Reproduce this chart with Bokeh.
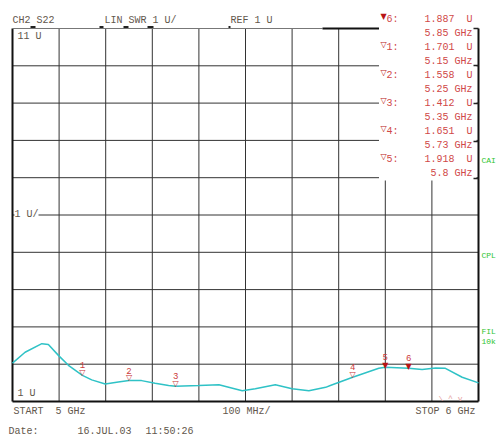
from bokeh.plotting import figure
from bokeh.models import Label
from bokeh.core.properties import value
from bokeh.embed import file_html
from bokeh.resources import INLINE

# ---- data ----
freq_ghz = [5.000, 5.027, 5.063, 5.077, 5.099, 5.120, 5.150, 5.170, 5.199, 5.227,
            5.250, 5.277, 5.306, 5.335, 5.350, 5.400, 5.443, 5.493, 5.521, 5.564,
            5.600, 5.636, 5.672, 5.682, 5.730, 5.786, 5.800, 5.850, 5.879, 5.908,
            5.929, 5.965, 6.000]
swr = [2.03, 2.32, 2.55, 2.53, 2.23, 1.97, 1.70, 1.58, 1.47, 1.52,
       1.56, 1.56, 1.49, 1.43, 1.41, 1.43, 1.45, 1.29, 1.34, 1.45,
       1.34, 1.29, 1.38, 1.43, 1.65, 1.89, 1.92, 1.89, 1.86, 1.90,
       1.89, 1.65, 1.50]

marker_ids = ["1", "2", "3", "4", "5", "6"]
marker_freq = [5.15, 5.25, 5.35, 5.73, 5.8, 5.85]
marker_swr = [1.701, 1.558, 1.412, 1.651, 1.918, 1.887]
table_order = ["6", "1", "2", "3", "4", "5"]

x_ticks = [5.1, 5.2, 5.3, 5.4, 5.5, 5.6, 5.7, 5.8, 5.9]
y_ticks = [2, 3, 4, 5, 6, 7, 8, 9, 10]

X0, X1, Y0, Y1 = 5.0, 6.0, 1.0, 11.0

# graticule geometry in page pixels (for placing decorative texts)
W, H = 502, 441
FL, FR, FT, FB = 12, 478, 28, 401
SP = "\u00a0"  # non-breaking space keeps the fixed-width gaps


def X(px):
    return X0 + (px - FL) / (FR - FL) * (X1 - X0)


def Y(py):
    return Y0 + (FB - py) / (FB - FT) * (Y1 - Y0)


p = figure(width=W, height=H, output_backend="svg", toolbar_location=None,
           x_range=(X(0), X(W)), y_range=(Y(H), Y(0)),
           x_axis_location=None, y_axis_location=None,
           min_border_left=0, min_border_right=0, min_border_top=0, min_border_bottom=0)
p.grid.visible = False
p.outline_line_color = None
p.background_fill_color = "white"
p.border_fill_color = "white"

# graticule
p.segment(x0=x_ticks, x1=x_ticks, y0=[Y0] * len(x_ticks), y1=[Y1] * len(x_ticks),
          line_color="#333333", line_width=1)
p.segment(x0=[X0] * len(y_ticks), x1=[X1] * len(y_ticks), y0=y_ticks, y1=y_ticks,
          line_color="#333333", line_width=1)

# marker table background
p.quad(left=[X(378.5)], right=[X(476)], top=[Y(27)], bottom=[Y(180)],
       fill_color="white", line_color=None)

# borders
p.segment(x0=[X0, X0, X1], x1=[X0, X1, X1], y0=[Y0, Y0, Y0], y1=[Y1, Y0, Y1],
          line_color="#111111", line_width=2)
p.segment(x0=[X0], x1=[X(322)], y0=[Y1], y1=[Y1], line_color="#777777", line_width=1.2)
p.segment(x0=[X(322)], x1=[X(378.5)], y0=[Y1], y1=[Y1], line_color="#111111", line_width=2)
# small header dashes and right-edge ticks
p.segment(x0=[X(30), X(99), X(123), X(147), X(228)], x1=[X(35), X(103), X(128), X(153), X(230)],
          y0=[Y(26.5)] * 5, y1=[Y(26.5)] * 5, line_color="#222222", line_width=2)
p.segment(x0=[X(473)] * 5, x1=[X1] * 5,
          y0=[Y(28), Y(65), Y(103), Y(141), Y(178)], y1=[Y(28), Y(65), Y(103), Y(141), Y(178)],
          line_color="#222222", line_width=1.5)

# trace
p.line(freq_ghz, swr, line_color="#2fc2c6", line_width=1.5)

# markers on trace
mono = "Liberation Mono"
open_x = [f for i, f in zip(marker_ids, marker_freq) if i in ("1", "2", "3", "4")]
open_y = [v for i, v in zip(marker_ids, marker_swr) if i in ("1", "2", "3", "4")]
fill_x = [f for i, f in zip(marker_ids, marker_freq) if i in ("5", "6")]
fill_y = [v for i, v in zip(marker_ids, marker_swr) if i in ("5", "6")]
p.text(open_x, open_y, text=["\u25bd"] * len(open_x), text_font=value("DejaVu Sans"),
       text_font_size="8px", text_align="center", text_baseline="alphabetic",
       text_color="#c83232", y_offset=-3)
p.text(fill_x, fill_y, text=["\u25bc"] * len(fill_x), text_font=value("DejaVu Sans"),
       text_font_size="8px", text_align="center", text_baseline="alphabetic",
       text_color="#b81414", y_offset=-2)
p.text(marker_freq, marker_swr, text=marker_ids, text_font=value(mono),
       text_font_size="9px", text_align="center", text_baseline="alphabetic",
       text_color="#cc3b3b", y_offset=-10)


def lab(txt, px, py, color, size="10px", align="left", font=mono, bg=None):
    p.add_layout(Label(x=X(px), y=Y(py), text=txt.replace(" ", SP), text_color=color,
                       text_font_size=size, text_font=font, text_align=align,
                       text_baseline="middle", background_fill_color=bg))


hdr = "#62574c"
lab("CH2 S22", 12, 20, hdr)
lab("LIN SWR 1 U/", 104, 20, hdr)
lab("REF 1 U", 230, 20, hdr)
lab("11 U", 17, 36, hdr)
lab("1 U/", 14, 214, hdr, bg="white")
lab("1 U", 17, 393, hdr)
lab("START  5 GHz", 13, 411, hdr)
lab("100 MHz/", 222, 411, hdr)
lab("STOP 6 GHz", 415, 411, hdr)
lab("Date:", 8, 431, hdr)
lab("16.JUL.03", 77, 431, hdr)
lab("11:50:26", 145, 431, hdr)

# marker table
red = "#d04848"
for k, mid in enumerate(table_order):
    i = marker_ids.index(mid)
    yv = 19 + 28 * k
    sym = "\u25bc" if mid == "6" else "\u25bd"
    lab(sym, 380, yv - 3, "#b81414", size="8px", font="DejaVu Sans")
    lab(mid + ":", 386, yv, red)
    lab(f"{marker_swr[i]:.3f}  U", 472, yv, red, align="right")
    lab(f"{marker_freq[i]:g} GHz", 472, yv + 14, red, align="right")

# side status labels
green = "#2fc42f"
lab("CAI", 481, 160, green, size="8px")
lab("CPL", 481, 255, green, size="8px")
lab("FIL", 481, 331, green, size="8px")
lab("10k", 481, 341, green, size="8px")
lab("\\ ^ v", 438, 398, "#e6a0a0", size="8px")

open("out.html", "w").write(file_html(p, INLINE))
